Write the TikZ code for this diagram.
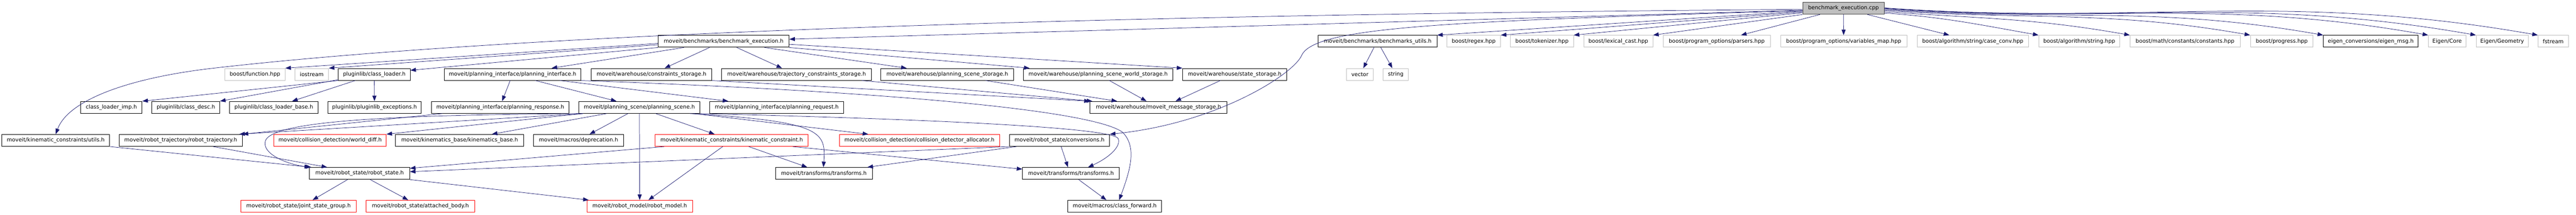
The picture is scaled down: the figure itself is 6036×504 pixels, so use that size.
\documentclass[tikz,border=0pt]{standalone}
\usepackage{fontspec}
\setmainfont{DejaVu Sans}
\usetikzlibrary{arrows.meta}
\definecolor{edgeblue}{HTML}{191970}
\definecolor{extgray}{HTML}{BFBFBF}
\definecolor{rootedge}{HTML}{404040}

\begin{document}
\begin{tikzpicture}[x=1pt,y=-1pt,
    hdr/.style={draw=black, line width=1.1pt, minimum height=28, inner sep=0,
      font=\fontsize{12.6}{14}\selectfont},
    ext/.style={hdr, draw=extgray},
    bad/.style={hdr, draw=red},
    rootbox/.style={hdr, draw=rootedge, fill=extgray},
    incl/.style={draw=edgeblue, line width=0.9pt, -{Triangle[length=13pt,width=9.5pt]}}]

    \useasboundingbox (0,0) rectangle (6036,504);

    \node[rootbox, minimum width=191] (root) at (4319.5,19.5) {benchmark\_execution.cpp};

    \node[hdr, minimum width=307] (bexec) at (1695.5,97) {moveit/benchmarks/benchmark\_execution.h};
    \node[hdr, minimum width=278] (butils) at (3228,97) {moveit/benchmarks/benchmarks\_utils.h};
    \node[hdr, minimum width=222] (emsg) at (5555,97) {eigen\_conversions/eigen\_msg.h};
    \foreach \n/\x/\w/\t in {regex/3453/126/{boost/regex.hpp},
        tok/3613/148/{boost/tokenizer.hpp},
        lex/3792/162/{boost/lexical\_cast.hpp},
        pars/4022.5/251/{boost/program\_options/parsers.hpp},
        vmap/4320/296/{boost/program\_options/variables\_map.hpp},
        case/4622.5/261/{boost/algorithm/string/case\_conv.hpp},
        algstr/4872/190/{boost/algorithm/string.hpp},
        consts/5120/258/{boost/math/constants/constants.hpp},
        prog/5346.5/147/{boost/progress.hpp},
        core/5734/88/{Eigen/Core},
        geom/5863/122/{Eigen/Geometry},
        fstr/5982.5/71/{fstream}} {
        \node[ext, minimum width=\w] (\n) at (\x,97) {\t};
    }

    \node[ext, minimum width=141] (func) at (597.5,174.5) {boost/function.hpp};
    \node[ext, minimum width=79] (ios) at (730.5,174.5) {iostream};
    \node[hdr, minimum width=168] (cl) at (877,174.5) {pluginlib/class\_loader.h};
    \node[hdr, minimum width=320] (pi) at (1201,174.5) {moveit/planning\_interface/planning\_interface.h};
    \node[hdr, minimum width=283] (cs) at (1526.5,174.5) {moveit/warehouse/constraints\_storage.h};
    \node[hdr, minimum width=351] (tcs) at (1866.5,174.5) {moveit/warehouse/trajectory\_constraints\_storage.h};
    \node[hdr, minimum width=311] (pss) at (2219.5,174.5) {moveit/warehouse/planning\_scene\_storage.h};
    \node[hdr, minimum width=350] (psws) at (2573,174.5) {moveit/warehouse/planning\_scene\_world\_storage.h};
    \node[hdr, minimum width=244] (ss) at (2893,174.5) {moveit/warehouse/state\_storage.h};
    \node[ext, minimum width=63] (vec) at (3186.5,174.5) {vector};
    \node[ext, minimum width=59] (strg) at (3270.5,174.5) {string};

    \node[hdr, minimum width=144] (cli) at (261,252) {class\_loader\_imp.h};
    \node[hdr, minimum width=159] (cd) at (435.5,252) {pluginlib/class\_desc.h};
    \node[hdr, minimum width=207] (clb) at (641.5,252) {pluginlib/class\_loader\_base.h};
    \node[hdr, minimum width=219] (pe) at (877.5,252) {pluginlib/pluginlib\_exceptions.h};
    \node[hdr, minimum width=322] (presp) at (1172,252) {moveit/planning\_interface/planning\_response.h};
    \node[hdr, minimum width=284] (ps) at (1498,252) {moveit/planning\_scene/planning\_scene.h};
    \node[hdr, minimum width=314] (preq) at (1820,252) {moveit/planning\_interface/planning\_request.h};
    \node[hdr, minimum width=321] (mms) at (2714.5,252) {moveit/warehouse/moveit\_message\_storage.h};

    \node[hdr, minimum width=253] (kcu) at (130.5,329.5) {moveit/kinematic\_constraints/utils.h};
    \node[hdr, minimum width=289] (rt) at (423.5,329.5) {moveit/robot\_trajectory/robot\_trajectory.h};
    \node[bad, minimum width=263] (wd) at (773.5,329.5) {moveit/collision\_detection/world\_diff.h};
    \node[hdr, minimum width=300] (kb) at (1077,329.5) {moveit/kinematics\_base/kinematics\_base.h};
    \node[hdr, minimum width=211] (dep) at (1355.5,329.5) {moveit/macros/deprecation.h};
    \node[bad, minimum width=359] (kc) at (1714.5,329.5) {moveit/kinematic\_constraints/kinematic\_constraint.h};
    \node[bad, minimum width=375] (cda) at (2154.5,329.5) {moveit/collision\_detection/collision\_detector\_allocator.h};
    \node[hdr, minimum width=235] (conv) at (2482.5,329.5) {moveit/robot\_state/conversions.h};

    \node[hdr, minimum width=235] (rs) at (842.5,407) {moveit/robot\_state/robot\_state.h};
    \node[hdr, minimum width=227] (tf1) at (1930.5,407) {moveit/transforms/transforms.h};
    \node[hdr, minimum width=227] (tf2) at (2509.5,407) {moveit/transforms/transforms.h};

    \node[bad, minimum width=271] (jsg) at (699.5,484) {moveit/robot\_state/joint\_state\_group.h};
    \node[bad, minimum width=254] (ab) at (985,484) {moveit/robot\_state/attached\_body.h};
    \node[bad, minimum width=248] (rm) at (1499,484) {moveit/robot\_model/robot\_model.h};
    \node[hdr, minimum width=220] (cf) at (2612,484) {moveit/macros/class\_forward.h};

    % includes of the .cpp
    \draw[incl] ([yshift=-2.5]root.west) .. controls (2500,35) and (1200,80) .. (500,160)
        .. controls (300,183) and (160,235) .. (kcu.north);
    \draw[incl] ([yshift=-4.5]root.west) -- ([yshift=5]bexec.east);
    \draw[incl] ([yshift=-5.5]root.west) .. controls (3400,50) and (3080,62) .. (3050,130)
        .. controls (3030,175) and (2850,290) .. (conv.north east);
    \draw[incl] ([yshift=-6.5]root.west) -- (butils.north east);
    \draw[incl] ([yshift=-8.5]root.west) -- (regex.north east);
    \draw[incl] ([yshift=-10.5]root.west) -- (tok.north east);
    \draw[incl] (root.south west) -- (lex.north east);
    \draw[incl] ([xshift=41]root.south west) -- ([xshift=183]pars.north west);
    \draw[incl] (root) -- (vmap);
    \draw[incl] ([xshift=-40]root.south east) -- ([xshift=76]case.north west);
    \foreach \n/\s/\k/\a/\b in {algstr/-11/141/10/25, consts/-8/225/16/40, prog/-5/335/23/59,
        emsg/-3/401/28/71, core/-1/497/35/88, geom/0/541/38/95, fstr/1/597/42/105} {
        \draw[incl] ([yshift=\s]root.east) .. controls +(\k,\a) and +(-\k,-\b) .. (\n.north west);
    }

    \draw[incl] ([yshift=-5]bexec.west) -- (func.north east);
    \draw[incl] ([yshift=-8]bexec.west) -- (ios.north east);
    \draw[incl] (bexec.south west) -- ([yshift=9.5]cl.east);
    \draw[incl] ([xshift=61]bexec.south west) -- ([xshift=252]pi.north west);
    \draw[incl] ([xshift=121]bexec.south west) -- ([xshift=173]cs.north west);
    \draw[incl] ([xshift=185]bexec.south west) -- ([xshift=142]tcs.north west);
    \draw[incl] ([xshift=250]bexec.south west) -- ([xshift=61]pss.north west);
    \draw[incl] (bexec.south east) -- ([xshift=15]psws.north west);
    \draw[incl] ([yshift=-7]bexec.east) -- (ss.north west);

    \draw[incl] (cl.south west) -- (cli.north east);
    \draw[incl] ([yshift=2]cl.south west) -- (cd.north east);
    \draw[incl] ([xshift=40]cl.south west) -- ([xshift=147]clb.north west);
    \draw[incl] (cl) -- (pe);

    \draw[incl] ([xshift=155]pi.south west) -- ([xshift=166]presp.north west);
    \draw[incl] ([xshift=214]pi.south west) -- ([xshift=89]ps.north west);
    \draw[incl] ([xshift=272]pi.south west) -- ([xshift=44]preq.north west);
    \draw[incl] (pi.south east) .. controls (2100,215) and (2560,260) .. (2630,310)
        .. controls (2665,345) and (2648,400) .. ([xshift=121]cf.north west);

    \draw[incl] (cs.south east) -- (mms.north west);
    \draw[incl] ([xshift=329]tcs.south west) -- ([xshift=6]mms.north west);
    \draw[incl] ([xshift=246]pss.south west) -- ([xshift=64]mms.north west);
    \draw[incl] ([xshift=202]psws.south west) -- ([xshift=133]mms.north west);
    \draw[incl] ([xshift=89]ss.south west) -- ([xshift=201]mms.north west);

    \draw[incl] ([xshift=131]butils.south west) -- ([xshift=40]vec.north west);
    \draw[incl] ([xshift=147]butils.south west) -- ([xshift=22]strg.north west);

    \draw[incl] ([xshift=11]ps.south west) -- ([xshift=-8]rt.north east);
    \draw[incl] ([xshift=26]presp.south west) -- (rt.north east);
    \draw[incl] ([xshift=4]ps.south west) .. controls (900,270) and (640,285) .. (622,330)
        .. controls (612,360) and (670,385) .. ([xshift=2]rs.north west);
    \draw[incl] ([xshift=10]ps.south west) -- (wd.north east);
    \draw[incl] ([xshift=66]ps.south west) -- ([xshift=226]kb.north west);
    \draw[incl] ([xshift=116]ps.south west) -- ([xshift=132]dep.north west);
    \draw[incl] (ps) -- (rm);
    \draw[incl] ([xshift=181]ps.south west) -- ([xshift=140]kc.north west);
    \draw[incl] ([xshift=261]ps.south west) .. controls (1930,285) and (1935,310) .. ([xshift=113]tf1.north west);
    \draw[incl] ([xshift=270]ps.south west) -- ([xshift=68]cda.north west);
    \draw[incl] (ps.south east) .. controls (2200,280) and (2605,300) .. (2620,325)
        .. controls (2628,345) and (2595,372) .. ([xshift=154]tf2.north west);

    \draw[incl] ([xshift=22]kc.south west) -- ([yshift=12]rs.east);
    \draw[incl] ([xshift=159]kc.south west) -- ([xshift=145]rm.north west);
    \draw[incl] ([xshift=220]kc.south west) -- ([xshift=75]tf1.north west);
    \draw[incl] ([xshift=323]kc.south west) -- ([yshift=10]tf2.west);

    \draw[incl] (conv.south west) -- ([yshift=4]rs.east);
    \draw[incl] ([xshift=17]conv.south west) -- ([xshift=-12]tf1.north east);
    \draw[incl] ([xshift=122]conv.south west) -- ([xshift=107]tf2.north west);

    \draw[incl] ([xshift=221]rt.south west) -- ([xshift=42]rs.north west);
    \draw[incl] (kcu.south east) -- ([xshift=5]rs.north west);

    \draw[incl] ([xshift=90]rs.south west) -- ([xshift=169]jsg.north west);
    \draw[incl] ([xshift=143]rs.south west) -- ([xshift=99]ab.north west);
    \draw[incl] (rs.south east) -- ([xshift=5]rm.north west);
    \draw[incl] ([xshift=132]tf2.south west) -- ([xshift=91]cf.north west);
\end{tikzpicture}
\end{document}
